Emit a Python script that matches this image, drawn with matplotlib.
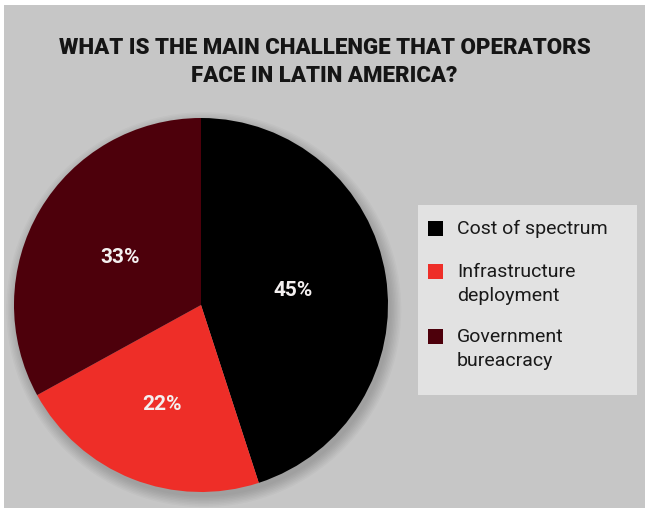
import matplotlib.pyplot as plt
from matplotlib.patches import Rectangle, Circle

# 回答の内訳
labels = ['Cost of spectrum', 'Infrastructure\ndeployment', 'Government\nbureacracy']
shares = [45, 22, 33]
colors = ['#000000', '#ee2e28', '#4d000b']
title = 'WHAT IS THE MAIN CHALLENGE THAT OPERATORS\nFACE IN LATIN AMERICA?'

W, H = 649, 511
fig = plt.figure(figsize=(W / 100, H / 100), dpi=100, facecolor='white')

# 外枠の内側のグレー背景
fig.patches.append(Rectangle((4 / W, 3 / H), 641 / W, 503 / H, transform=fig.transFigure,
                             facecolor='#c6c6c6', edgecolor='none', zorder=-5))

fig.text(0.5, (H - 62) / H, title, ha='center', va='center', fontsize=16,
         fontweight='heavy',
         family=['DejaVu Sans Condensed', 'Liberation Sans Narrow', 'Roboto', 'DejaVu Sans'],
         color='#151515', linespacing=1.3)

# 円グラフ（中心と半径はピクセルで決める）
cx, cy, r = 201, 305, 187
ax = fig.add_axes([(cx - r) / W, (H - cy - r) / H, 2 * r / W, 2 * r / H], zorder=2)
ax.set_aspect('equal')
ax.axis('off')

# ぼかした影
for k in range(8):
    ax.add_patch(Circle((0.015, -0.025), 1.0 + k * 0.008, facecolor='black',
                        alpha=0.022, edgecolor='none', zorder=0, clip_on=False))

wedges, _, pcts = ax.pie(shares, colors=colors, startangle=90, counterclock=False,
                         radius=1, autopct='%d%%', pctdistance=0.5,
                         textprops=dict(color='white', fontsize=15, fontweight='bold',
                                        family='Roboto'),
                         wedgeprops=dict(linewidth=0, zorder=2))
ax.set_xlim(-1, 1)
ax.set_ylim(-1, 1)
for t in pcts:
    t.set_zorder(3)
    t.set_color('#f4f0f0')
x1, y1 = pcts[1].get_position()
pcts[1].set_position((x1 * 1.14, y1 * 1.14))

# 凡例ボックス
fig.patches.append(Rectangle((418 / W, (H - 395) / H), 219 / W, 190 / H,
                             transform=fig.transFigure, facecolor='#e2e2e2',
                             edgecolor='none', zorder=1))
row_tops = [221, 264, 329]
for lab, col, y in zip(labels, colors, row_tops):
    fig.patches.append(Rectangle((428 / W, (H - y - 15) / H), 15 / W, 15 / H,
                                 transform=fig.transFigure, facecolor=col,
                                 edgecolor='none', zorder=2))
    fig.text(457 / W, (H - y + 1) / H, lab, ha='left', va='top', fontsize=14,
             family='Roboto', color='#1a1a1a', linespacing=1.45, zorder=3)

fig.savefig('out.png', dpi=100, facecolor=fig.get_facecolor())
